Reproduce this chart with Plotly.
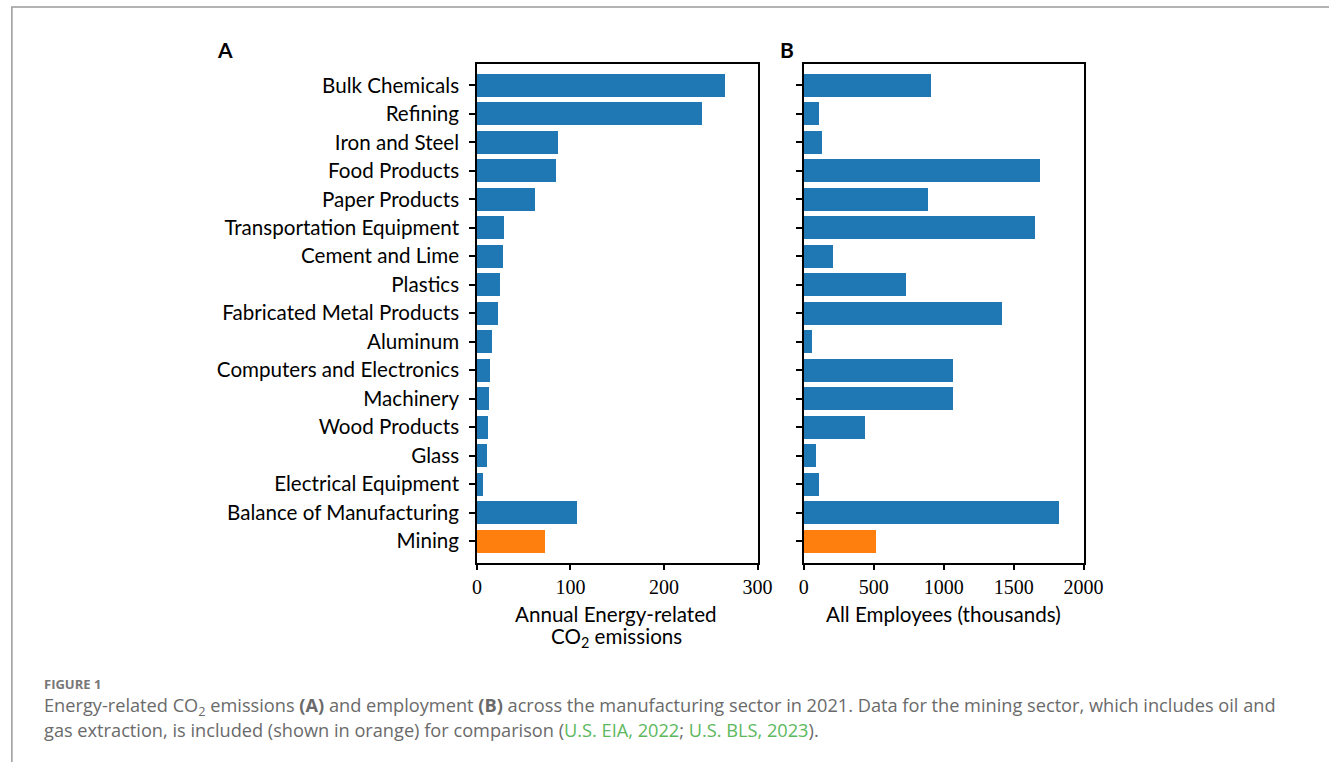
import plotly.graph_objects as go

W, H = 1329, 762

categories = ["Bulk Chemicals", "Refining", "Iron and Steel", "Food Products", "Paper Products",
              "Transportation Equipment", "Cement and Lime", "Plastics", "Fabricated Metal Products",
              "Aluminum", "Computers and Electronics", "Machinery", "Wood Products", "Glass",
              "Electrical Equipment", "Balance of Manufacturing", "Mining"]
co2_emissions = [265, 241, 87, 84, 62, 29, 28, 24.5, 22.5, 15.7, 13.6, 12.6, 11.5, 10.8, 6.3, 107, 73]
employees_thousands = [905, 105, 131, 1685, 884, 1653, 210, 732, 1412, 56, 1068, 1062, 437, 87, 105, 1819, 512]
bar_colors = ["#1f77b4"] * 16 + ["#ff7f0e"]
x_ticks_a = [0, 100, 200, 300]
x_ticks_b = [0, 500, 1000, 1500, 2000]

def px(x):
    return x / W

def py(y):
    return 1 - y / H

fig = go.Figure()
fig.add_trace(go.Bar(y=categories, x=co2_emissions, orientation="h", width=0.8,
                     marker=dict(color=bar_colors, line=dict(width=0)),
                     xaxis="x", yaxis="y", showlegend=False))
fig.add_trace(go.Bar(y=categories, x=employees_thousands, orientation="h", width=0.8,
                     marker=dict(color=bar_colors, line=dict(width=0)),
                     xaxis="x2", yaxis="y2", showlegend=False))

tickfont_num = dict(family="Liberation Serif", size=20, color="black")
axis_common = dict(showline=True, mirror=True, linecolor="black", linewidth=1.5,
                   showgrid=False, zeroline=False, ticks="outside", ticklen=6,
                   tickwidth=1.5, tickcolor="black")

ydom = [py(562.5), py(64)]
fig.update_layout(
    width=W, height=H, margin=dict(l=0, r=0, t=0, b=0),
    paper_bgcolor="white", plot_bgcolor="white",
    bargap=0,
    xaxis=dict(domain=[px(481), px(767)], range=[0, 300], tickvals=x_ticks_a,
               tickfont=tickfont_num, anchor="y", **axis_common),
    yaxis=dict(domain=ydom, type="category", categoryorder="array", categoryarray=categories,
               range=[16.75, -0.75], tickfont=dict(family="Lato", size=20.6, color="black"),
               ticklabelstandoff=6, anchor="x", **axis_common),
    xaxis2=dict(domain=[px(814), px(1099.3)], range=[0, 2000], tickvals=x_ticks_b,
                tickfont=tickfont_num, anchor="y2", **axis_common),
    yaxis2=dict(domain=ydom, type="category", categoryorder="array", categoryarray=categories,
                range=[16.75, -0.75], showticklabels=False, anchor="x2", **axis_common),
)

ann = []
ann.append(dict(text="<b>A</b>", x=px(224), y=py(50), font=dict(family="Lato", size=21, color="black")))
ann.append(dict(text="<b>B</b>", x=px(797), y=py(49), font=dict(family="Lato", size=21, color="black")))
ann.append(dict(text="Annual Energy-related", x=px(623), y=py(614), font=dict(family="Lato", size=20.6, color="black")))
ann.append(dict(text="CO<sub>2</sub> emissions", x=px(623), y=py(637), font=dict(family="Lato", size=20.6, color="black")))
ann.append(dict(text="All Employees (thousands)", x=px(956), y=py(614), font=dict(family="Lato", size=20.6, color="black")))
ann.append(dict(text="<b>FIGURE 1</b>", x=px(38), y=py(684), xanchor="left",
                font=dict(family="Open Sans", size=13, color="#777777")))
green = "#5cb85c"
line1 = ("Energy-related CO<sub>2</sub> emissions <b>(A)</b> and employment <b>(B)</b> across the "
         "manufacturing sector in 2021. Data for the mining sector, which includes oil and")
line2 = ("gas extraction, is included (shown in orange) for comparison ("
         f"<span style='color:{green}'>U.S. EIA, 2022</span>; "
         f"<span style='color:{green}'>U.S. BLS, 2023</span>).")
ann.append(dict(text=line1, x=px(38), y=py(706), xanchor="left",
                font=dict(family="Open Sans", size=18.2, color="#6a6a6a")))
ann.append(dict(text=line2, x=px(38), y=py(730), xanchor="left",
                font=dict(family="Open Sans", size=18.2, color="#6a6a6a")))
for a in ann:
    a.setdefault("xanchor", "center")
    a.update(xref="paper", yref="paper", yanchor="middle", showarrow=False)
fig.update_layout(annotations=ann)

fig.add_shape(type="rect", xref="paper", yref="paper", x0=px(7), y0=py(7), x1=px(1360), y1=py(800),
              line=dict(color="#9a9a9a", width=1.5), fillcolor="rgba(0,0,0,0)", layer="above")

fig.write_html("out.html", config={"responsive": False},
               post_script="document.body.style.margin='0';document.body.style.overflow='hidden';")
